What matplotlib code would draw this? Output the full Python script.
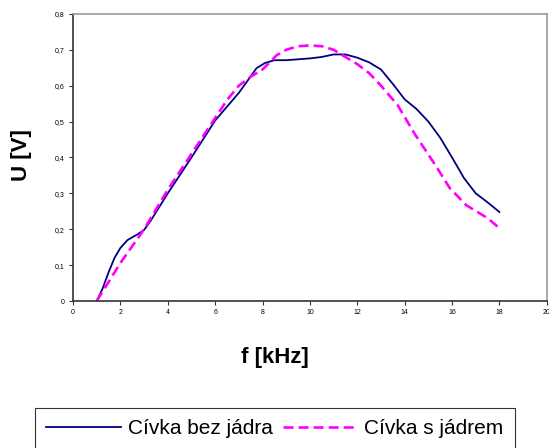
import matplotlib
matplotlib.use("Agg")
import matplotlib.pyplot as plt

plt.rcParams['font.family'] = ['Liberation Sans', 'DejaVu Sans']

# Cívka bez jádra
f_bez = [1, 1.25, 1.5, 1.75, 2, 2.3, 2.7, 3, 3.3, 4, 5, 6, 7, 7.75, 8.1, 8.5, 9,
         10, 10.5, 11, 11.5, 12, 12.5, 13, 13.5, 14, 14.5, 15, 15.5, 16, 16.5,
         17, 17.5, 18]
u_bez = [0, 0.035, 0.08, 0.12, 0.148, 0.17, 0.185, 0.198, 0.226, 0.30, 0.40,
         0.503, 0.58, 0.649, 0.663, 0.671, 0.671, 0.676, 0.68, 0.687, 0.687,
         0.678, 0.665, 0.645, 0.605, 0.562, 0.535, 0.5, 0.455, 0.40, 0.343,
         0.30, 0.275, 0.248]

# Cívka s jádrem
f_s = [1, 2, 3, 4, 5, 6, 6.5, 7, 7.5, 8, 8.6, 9, 9.5, 10, 10.5, 11, 11.5, 12,
       12.5, 13, 13.7, 14.4, 15.35, 15.9, 16.6, 17.5, 18]
u_s = [0, 0.106, 0.2, 0.31, 0.41, 0.51, 0.56, 0.6, 0.625, 0.645, 0.685, 0.70,
       0.71, 0.712, 0.71, 0.70, 0.68, 0.66, 0.635, 0.6, 0.546, 0.468, 0.373,
       0.315, 0.267, 0.231, 0.203]

x_ticks = [0, 2, 4, 6, 8, 10, 12, 14, 16, 18, 20]
y_ticks = [0, 0.1, 0.2, 0.3, 0.4, 0.5, 0.6, 0.7, 0.8]

fig = plt.figure(figsize=(5.49, 4.48), dpi=100)
ax = fig.add_axes([0.133, 0.328, 0.863, 0.641])

ax.plot(f_bez, u_bez, color='#000080', lw=1.3, label='Cívka bez jádra')
ax.plot(f_s, u_s, color='#FF00FF', lw=1.9, dashes=(3.8, 1.9), label='Cívka s jádrem')

ax.set_xlim(0, 20)
ax.set_ylim(0, 0.8)
ax.set_xticks(x_ticks)
ax.set_yticks(y_ticks)
ax.set_xticklabels([str(v) for v in x_ticks])
ax.set_yticklabels([('%g' % v).replace('.', ',') for v in y_ticks])
ax.tick_params(labelsize=5, length=3, width=0.8, color='#333333', pad=3)

for s in ['left', 'bottom']:
    ax.spines[s].set_color('#333333')
    ax.spines[s].set_linewidth(1.2)
for s in ['top', 'right']:
    ax.spines[s].set_color('#999999')
    ax.spines[s].set_linewidth(1.2)

fig.text(0.5, 1 - 357 / 448, 'f [kHz]', ha='center', va='center',
         fontsize=16, fontweight='bold')
fig.text(21 / 549, 1 - 155 / 448, 'U [V]', ha='center', va='center',
         rotation=90, fontsize=16, fontweight='bold')

leg = fig.legend(loc='upper center', bbox_to_anchor=(275 / 549, 1 - 408 / 448),
                 ncol=2, fontsize=15, frameon=True, fancybox=False,
                 handlelength=3.6, handletextpad=0.3, columnspacing=0.5,
                 borderpad=0.55, borderaxespad=0)
leg.get_frame().set_edgecolor('black')
leg.get_frame().set_linewidth(0.8)

fig.savefig('out.png', dpi=100)
